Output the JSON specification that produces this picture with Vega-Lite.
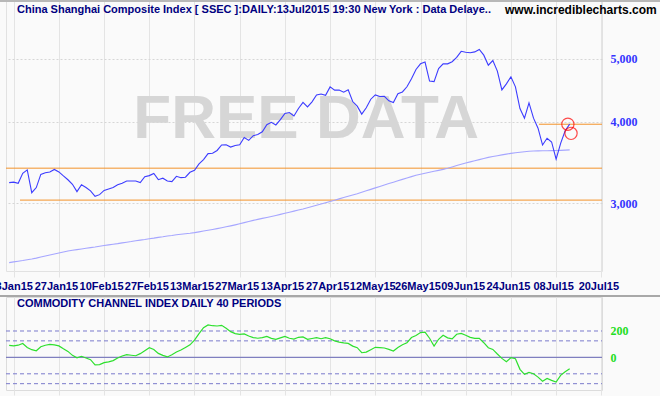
{
"$schema": "https://vega.github.io/schema/vega-lite/v6.json",
"background": "#fafafa",
"padding": {"left": -16, "top": -1, "right": 0, "bottom": 0},
"bounds": "flush",
"spacing": 26,
"datasets": {
"main": [
{"t":-1,"close":3229,"ma":2435,"cci":91},
{"t":0,"close":3235,"ma":2441,"cci":87},
{"t":1,"close":3222,"ma":2447,"cci":92},
{"t":2,"close":3336,"ma":2453,"cci":105},
{"t":3,"close":3377,"ma":2460,"cci":75},
{"t":4,"close":3116,"ma":2466,"cci":58},
{"t":5,"close":3173,"ma":2474,"cci":50},
{"t":6,"close":3324,"ma":2483,"cci":80},
{"t":7,"close":3343,"ma":2492,"cci":92},
{"t":8,"close":3352,"ma":2501,"cci":98},
{"t":9,"close":3383,"ma":2510,"cci":95},
{"t":10,"close":3353,"ma":2519,"cci":87},
{"t":11,"close":3306,"ma":2528,"cci":65},
{"t":12,"close":3262,"ma":2537,"cci":45},
{"t":13,"close":3210,"ma":2543,"cci":15},
{"t":14,"close":3128,"ma":2549,"cci":-3},
{"t":15,"close":3205,"ma":2555,"cci":8},
{"t":16,"close":3174,"ma":2561,"cci":-5},
{"t":17,"close":3137,"ma":2567,"cci":-18},
{"t":18,"close":3076,"ma":2573,"cci":-58},
{"t":19,"close":3095,"ma":2580,"cci":-55},
{"t":20,"close":3142,"ma":2586,"cci":-40},
{"t":21,"close":3158,"ma":2592,"cci":-34},
{"t":22,"close":3173,"ma":2598,"cci":-25},
{"t":23,"close":3204,"ma":2604,"cci":-5},
{"t":24,"close":3222,"ma":2611,"cci":10},
{"t":25,"close":3247,"ma":2617,"cci":20},
{"t":26,"close":3247,"ma":2623,"cci":16},
{"t":27,"close":3247,"ma":2630,"cci":12},
{"t":28,"close":3229,"ma":2636,"cci":28},
{"t":29,"close":3298,"ma":2642,"cci":50},
{"t":30,"close":3310,"ma":2649,"cci":73},
{"t":31,"close":3336,"ma":2655,"cci":60},
{"t":32,"close":3263,"ma":2662,"cci":30},
{"t":33,"close":3280,"ma":2668,"cci":15},
{"t":34,"close":3248,"ma":2675,"cci":3},
{"t":35,"close":3241,"ma":2680,"cci":20},
{"t":36,"close":3302,"ma":2686,"cci":40},
{"t":37,"close":3286,"ma":2691,"cci":55},
{"t":38,"close":3291,"ma":2696,"cci":75},
{"t":39,"close":3349,"ma":2701,"cci":95},
{"t":40,"close":3373,"ma":2707,"cci":130},
{"t":41,"close":3449,"ma":2714,"cci":180},
{"t":42,"close":3503,"ma":2722,"cci":225},
{"t":43,"close":3577,"ma":2729,"cci":246},
{"t":44,"close":3582,"ma":2737,"cci":240},
{"t":45,"close":3617,"ma":2745,"cci":238},
{"t":46,"close":3688,"ma":2754,"cci":243},
{"t":47,"close":3691,"ma":2763,"cci":220},
{"t":48,"close":3661,"ma":2772,"cci":195},
{"t":49,"close":3682,"ma":2782,"cci":180},
{"t":50,"close":3691,"ma":2793,"cci":175},
{"t":51,"close":3787,"ma":2804,"cci":178},
{"t":52,"close":3748,"ma":2815,"cci":162},
{"t":53,"close":3810,"ma":2826,"cci":150},
{"t":54,"close":3826,"ma":2836,"cci":145},
{"t":55,"close":3864,"ma":2846,"cci":150},
{"t":56,"close":3961,"ma":2856,"cci":159},
{"t":57,"close":3995,"ma":2866,"cci":144},
{"t":58,"close":3958,"ma":2876,"cci":137},
{"t":59,"close":4034,"ma":2887,"cci":148},
{"t":60,"close":4122,"ma":2898,"cci":159},
{"t":61,"close":4136,"ma":2909,"cci":145},
{"t":62,"close":4084,"ma":2920,"cci":138},
{"t":63,"close":4195,"ma":2931,"cci":152},
{"t":64,"close":4287,"ma":2942,"cci":155},
{"t":65,"close":4217,"ma":2955,"cci":137},
{"t":66,"close":4294,"ma":2968,"cci":143},
{"t":67,"close":4398,"ma":2981,"cci":149},
{"t":68,"close":4415,"ma":2994,"cci":141},
{"t":69,"close":4394,"ma":3007,"cci":149},
{"t":70,"close":4527,"ma":3021,"cci":141},
{"t":71,"close":4476,"ma":3035,"cci":125},
{"t":72,"close":4477,"ma":3049,"cci":116},
{"t":73,"close":4442,"ma":3063,"cci":110},
{"t":74,"close":4480,"ma":3077,"cci":106},
{"t":75,"close":4299,"ma":3091,"cci":85},
{"t":76,"close":4229,"ma":3105,"cci":73},
{"t":77,"close":4112,"ma":3121,"cci":35},
{"t":78,"close":4206,"ma":3137,"cci":40},
{"t":79,"close":4334,"ma":3153,"cci":58},
{"t":80,"close":4401,"ma":3170,"cci":76},
{"t":81,"close":4376,"ma":3186,"cci":74},
{"t":82,"close":4378,"ma":3202,"cci":71},
{"t":83,"close":4309,"ma":3218,"cci":60},
{"t":84,"close":4283,"ma":3234,"cci":48},
{"t":85,"close":4418,"ma":3250,"cci":75},
{"t":86,"close":4446,"ma":3266,"cci":95},
{"t":87,"close":4529,"ma":3282,"cci":111},
{"t":88,"close":4658,"ma":3298,"cci":150},
{"t":89,"close":4814,"ma":3314,"cci":165},
{"t":90,"close":4911,"ma":3326,"cci":188},
{"t":91,"close":4942,"ma":3338,"cci":192},
{"t":92,"close":4620,"ma":3349,"cci":145},
{"t":93,"close":4612,"ma":3361,"cci":86},
{"t":94,"close":4829,"ma":3372,"cci":137},
{"t":95,"close":4911,"ma":3384,"cci":167},
{"t":96,"close":4910,"ma":3396,"cci":148},
{"t":97,"close":4947,"ma":3413,"cci":140},
{"t":98,"close":5023,"ma":3430,"cci":175},
{"t":99,"close":5132,"ma":3445,"cci":182},
{"t":100,"close":5114,"ma":3460,"cci":168},
{"t":101,"close":5106,"ma":3474,"cci":152},
{"t":102,"close":5122,"ma":3488,"cci":144},
{"t":103,"close":5166,"ma":3502,"cci":144},
{"t":104,"close":5063,"ma":3516,"cci":111},
{"t":105,"close":4887,"ma":3530,"cci":73},
{"t":106,"close":4968,"ma":3541,"cci":60},
{"t":107,"close":4785,"ma":3551,"cci":25},
{"t":108,"close":4478,"ma":3561,"cci":-8},
{"t":109,"close":4576,"ma":3571,"cci":-33},
{"t":110,"close":4690,"ma":3580,"cci":-3},
{"t":111,"close":4528,"ma":3588,"cci":-11},
{"t":112,"close":4193,"ma":3595,"cci":-91},
{"t":113,"close":4053,"ma":3601,"cci":-129},
{"t":114,"close":4277,"ma":3607,"cci":-115},
{"t":115,"close":4054,"ma":3611,"cci":-125},
{"t":116,"close":3913,"ma":3612,"cci":-150},
{"t":117,"close":3687,"ma":3613,"cci":-182},
{"t":118,"close":3776,"ma":3614,"cci":-160},
{"t":119,"close":3727,"ma":3615,"cci":-175},
{"t":120,"close":3507,"ma":3616,"cci":-188},
{"t":121,"close":3709,"ma":3618,"cci":-137},
{"t":122,"close":3878,"ma":3621,"cci":-110},
{"t":123,"close":3970,"ma":3624,"cci":-87}
]
},
"vconcat": [
{
"width": 596,
"height": 270,
"view": {"stroke": "#e2e2e2"},
"encoding": {
"x": {"field": "t", "type": "quantitative", "scale": {"domain": [-1.7, 130.15], "nice": false, "zero": false},
"axis": {"values": [0,10,20,30,40,50,60,70,80,90,100,110,120,130], "labelExpr": "['13Jan15','27Jan15','10Feb15','27Feb15','13Mar15','27Mar15','13Apr15','27Apr15','12May15','26May15','09Jun15','24Jun15','08Jul15','20Jul15'][round(datum.value/10)]", "grid": true, "gridColor": "#e4e4e4", "tickColor": "#e4e4e4", "tickSize": 6, "domain": false, "labelFont": "Liberation Sans", "labelFontWeight": "bold", "labelFontSize": 11, "labelColor": "#000080", "labelOverlap": false, "labelBound": false, "labelFlush": false, "labelPadding": 3, "labelOffset": -3, "title": null}},
"y": {"field": "v", "type": "quantitative", "scale": {"type": "log", "domain": [2364, 6129], "nice": false},
"axis": {"orient": "right", "values": [3000, 4000, 5000], "format": ",d", "grid": true, "gridColor": "#d6d6d6", "gridDash": [2, 2], "ticks": false, "domain": false, "labelFont": "Liberation Serif", "labelFontWeight": "bold", "labelFontSize": 12, "labelColor": "#3535ff", "labelPadding": 8, "title": null}}
},
"layer": [
{"data": {"values": [{"t": 64.7, "v": 3781, "txt": "FREE DATA"}]},
"mark": {"type": "text", "align": "center", "baseline": "alphabetic", "font": "Liberation Sans", "fontWeight": "bold", "fontSize": 62, "color": "#d6d6d6"},
"encoding": {"text": {"field": "txt"}}},
{"data": {"values": [{"t": -1.7, "t2": 130.15, "v": 3398}, {"t": 1.4, "t2": 130.15, "v": 3036}, {"t": 116.2, "t2": 130.15, "v": 3968}]},
"mark": {"type": "rule", "color": "#f39229", "strokeWidth": 1},
"encoding": {"x2": {"field": "t2"}}},
{"data": {"name": "main"},
"transform": [{"fold": ["ma", "close"], "as": ["s", "v"]}],
"mark": {"type": "line", "strokeWidth": 1.1},
"encoding": {"color": {"field": "s", "type": "nominal", "scale": {"domain": ["ma", "close"], "range": ["#a6a6ff", "#3c3cff"]}, "legend": null}}},
{"data": {"values": [{"t": 122.6, "v": 3968}, {"t": 123.3, "v": 3842}]},
"mark": {"type": "point", "shape": "circle", "size": 150, "filled": false, "color": "#ff0000", "strokeWidth": 1.2}},
{"data": {"values": [{"t": 0.73, "v": 5927, "txt": "China Shanghai Composite Index [ SSEC ]:DAILY:13Jul2015 19:30 New York : Data Delaye.."}]},
"mark": {"type": "text", "align": "left", "baseline": "middle", "font": "Liberation Sans", "fontWeight": "bold", "fontSize": 11, "color": "#000080"},
"encoding": {"text": {"field": "txt"}}},
{"data": {"values": [{"t": 108.7, "v": 5927, "txt": "www.incrediblecharts.com"}]},
"mark": {"type": "text", "align": "left", "baseline": "middle", "font": "Liberation Sans", "fontWeight": "bold", "fontSize": 12, "color": "#000000"},
"encoding": {"text": {"field": "txt"}}},
{"data": {"values": [{"t": -6.13, "t2": 143.4, "v": 6129}]},
"mark": {"type": "rule", "color": "#b8b8b8", "strokeWidth": 2},
"encoding": {"x2": {"field": "t2"}}}
]
},
{
"width": 596,
"height": 93,
"view": {"stroke": "#dcdcdc"},
"encoding": {
"x": {"field": "t", "type": "quantitative", "scale": {"domain": [-1.7, 130.15], "nice": false, "zero": false},
"axis": {"values": [0,10,20,30,40,50,60,70,80,90,100,110,120,130], "labels": false, "grid": true, "gridColor": "#e4e4e4", "tickColor": "#e4e4e4", "tickSize": 5, "domain": false, "title": null}},
"y": {"field": "v", "type": "quantitative", "scale": {"domain": [-248, 458], "nice": false, "zero": false},
"axis": {"orient": "right", "values": [0, 200], "format": "d", "grid": false, "ticks": false, "domain": false, "labelFont": "Liberation Serif", "labelFontWeight": "bold", "labelFontSize": 12, "labelColor": "#22dd22", "labelPadding": 8, "title": null}}
},
"layer": [
{"data": {"values": [{"t": -1.7, "t2": 130.15, "v": 200}, {"t": -1.7, "t2": 130.15, "v": 125}, {"t": -1.7, "t2": 130.15, "v": -125}, {"t": -1.7, "t2": 130.15, "v": -200}]},
"mark": {"type": "rule", "color": "#7a7acc", "strokeDash": [4, 3], "strokeWidth": 1},
"encoding": {"x2": {"field": "t2"}}},
{"data": {"values": [{"t": -1.7, "t2": 130.15, "v": 0}]},
"mark": {"type": "rule", "color": "#7f7fbf", "strokeWidth": 1.2},
"encoding": {"x2": {"field": "t2"}}},
{"data": {"name": "main"},
"transform": [{"fold": ["cci"], "as": ["s", "v"]}],
"mark": {"type": "line", "color": "#2ee02e", "strokeWidth": 1.2}},
{"data": {"values": [{"t": 0.73, "v": 402, "txt": "COMMODITY CHANNEL INDEX DAILY 40 PERIODS"}]},
"mark": {"type": "text", "align": "left", "baseline": "middle", "font": "Liberation Sans", "fontWeight": "bold", "fontSize": 11, "color": "#000080"},
"encoding": {"text": {"field": "txt"}}},
{"data": {"values": [{"t": -6.13, "t2": 143.4, "v": 465}]},
"mark": {"type": "rule", "color": "#a8a8a8", "strokeWidth": 2},
"encoding": {"x2": {"field": "t2"}}}
]
}
]
}
